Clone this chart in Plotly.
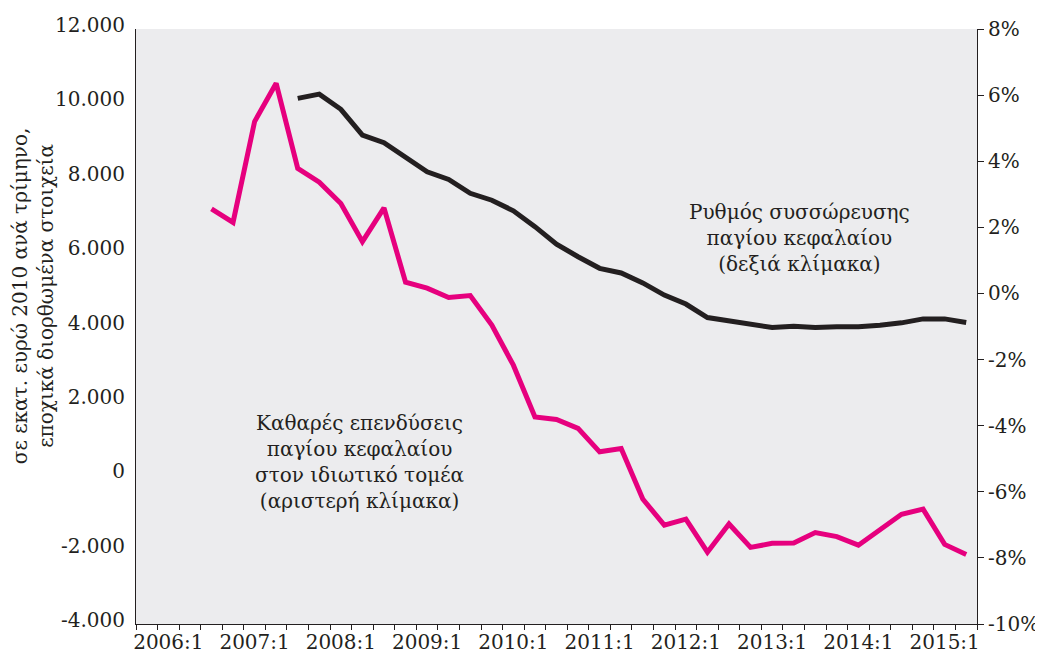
import plotly.graph_objects as go

# Quarter categories on the x axis (2005:4 .. 2015:2)
quarters = [
    "2005:4",
    "2006:1", "2006:2", "2006:3", "2006:4",
    "2007:1", "2007:2", "2007:3", "2007:4",
    "2008:1", "2008:2", "2008:3", "2008:4",
    "2009:1", "2009:2", "2009:3", "2009:4",
    "2010:1", "2010:2", "2010:3", "2010:4",
    "2011:1", "2011:2", "2011:3", "2011:4",
    "2012:1", "2012:2", "2012:3", "2012:4",
    "2013:1", "2013:2", "2013:3", "2013:4",
    "2014:1", "2014:2", "2014:3", "2014:4",
    "2015:1", "2015:2",
]
year_labels = ["2006:1", "2007:1", "2008:1", "2009:1", "2010:1",
               "2011:1", "2012:1", "2013:1", "2014:1", "2015:1"]

# Net private fixed investment, EUR million (2010 prices), quarterly, s.a. (left axis) 2006:3 .. 2015:2
net_investment = [
    7160, 6800, 9510, 10540, 8250, 7880, 7310, 6280, 7190, 5190,
    5030, 4780, 4830, 4040, 2960, 1570, 1500, 1260, 630, 720,
    -640, -1340, -1180, -2070, -1310, -1940, -1830, -1820, -1540, -1650,
    -1880, -1460, -1050, -910, -1860, -2130,
]
# Capital accumulation rate, % (right axis) 2007:3 .. 2015:2
accumulation_rate = [
    5.90, 6.03, 5.57, 4.79, 4.56, 4.13, 3.68, 3.45, 3.03, 2.82,
    2.50, 2.02, 1.49, 1.11, 0.76, 0.62, 0.32, -0.05, -0.32, -0.73,
    -0.84, -0.93, -1.03, -0.99, -1.03, -1.01, -1.01, -0.96, -0.89, -0.77,
    -0.77, -0.88,
]

left_ticks = [-4000, -2000, 0, 2000, 4000, 6000, 8000, 10000, 12000]
left_ticktext = ["-4.000", "-2.000", "0", "2.000", "4.000", "6.000", "8.000", "10.000", "12.000"]
right_ticks = [-10, -8, -6, -4, -2, 0, 2, 4, 6, 8]
right_ticktext = ["-10%", "-8%", "-6%", "-4%", "-2%", "0%", "2%", "4%", "6%", "8%"]

pink = "#E6007E"
dark = "#231F20"
font_family = "DejaVu Serif"

fig = go.Figure()
fig.add_trace(go.Scatter(
    x=quarters[len(quarters) - len(net_investment):], y=net_investment,
    mode="lines", line=dict(color=pink, width=5), yaxis="y", showlegend=False,
))
fig.add_trace(go.Scatter(
    x=quarters[len(quarters) - len(accumulation_rate):], y=accumulation_rate,
    mode="lines", line=dict(color=dark, width=5), yaxis="y2", showlegend=False,
))

tick_text_x = [q if q in year_labels else "" for q in quarters]

# the page body has an 8px margin, so the figure is sized to fit the 1043x658 window
fig.update_layout(
    width=1035, height=650,
    margin=dict(l=128, r=66, t=21, b=34),
    paper_bgcolor="white",
    plot_bgcolor="#ECECEE",
    font=dict(family=font_family, color=dark, size=20),
    xaxis=dict(
        type="category",
        categoryorder="array", categoryarray=quarters,
        range=[-0.5, len(quarters) - 0.5],
        tickmode="array", tickvals=quarters, ticktext=tick_text_x,
        tickson="boundaries", tickangle=0, automargin=False,
        ticks="outside", ticklen=5, tickcolor=dark, tickwidth=1,
        showline=True, linecolor=dark, linewidth=1,
        showgrid=False, zeroline=False,
        tickfont=dict(size=20, family=font_family, color=dark),
        fixedrange=True,
    ),
    yaxis=dict(
        range=[-4000, 12000], automargin=False,
        tickmode="array", tickvals=left_ticks, ticktext=left_ticktext,
        ticks="", showline=True, linecolor=dark, linewidth=1,
        showgrid=False, zeroline=False,
        tickfont=dict(size=20, family=font_family, color=dark),
        ticklabelstandoff=6,
        ticklabelshift=-4,
    ),
    yaxis2=dict(
        range=[-10, 8], overlaying="y", side="right", automargin=False,
        tickmode="array", tickvals=right_ticks, ticktext=right_ticktext,
        ticks="outside", ticklen=6, tickcolor=dark, tickwidth=1,
        showline=True, linecolor=dark, linewidth=1,
        showgrid=False, zeroline=False,
        tickfont=dict(size=20, family=font_family, color=dark),
    ),
    annotations=[
        dict(
            text="σε εκατ. ευρώ 2010 ανά τρίμηνο,<br>εποχικά διορθωμένα στοιχεία",
            xref="paper", yref="paper", x=-0.1225, y=0.551,
            xanchor="center", yanchor="middle", textangle=-90,
            showarrow=False, font=dict(size=20, family=font_family, color=dark),
        ),
        dict(
            text="Καθαρές επενδύσεις<br>παγίου κεφαλαίου<br>στον ιδιωτικό τομέα<br>(αριστερή κλίμακα)",
            xref="paper", yref="paper", x=0.2663, y=0.272,
            xanchor="center", yanchor="middle",
            showarrow=False, font=dict(size=20, family=font_family, color=dark),
        ),
        dict(
            text="Ρυθμός συσσώρευσης<br>παγίου κεφαλαίου<br>(δεξιά κλίμακα)",
            xref="paper", yref="paper", x=0.7895, y=0.6487,
            xanchor="center", yanchor="middle",
            showarrow=False, font=dict(size=20, family=font_family, color=dark),
        ),
    ],
)

fig.write_html("out.html")
